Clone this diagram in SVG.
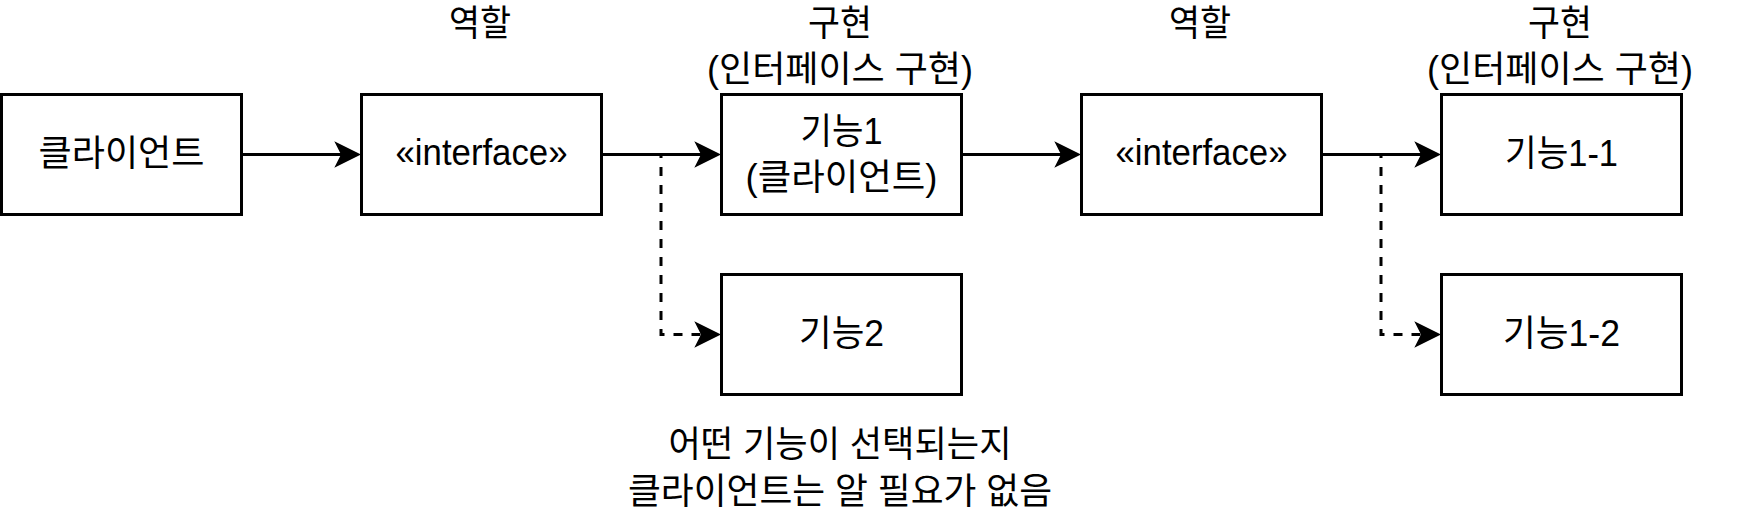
<svg xmlns="http://www.w3.org/2000/svg" xmlns:xlink="http://www.w3.org/1999/xlink" width="1743" height="516" viewBox="0 0 1743 516">
  <style>
    .box { fill: #ffffff; stroke: #000000; stroke-width: 3; }
    .t { font-family: "Liberation Sans", "Noto Sans CJK KR", sans-serif; font-size: 36px; fill: #000000; text-anchor: middle; }
    .line { fill: none; stroke: #000000; stroke-width: 3; }
    .dash { fill: none; stroke: #000000; stroke-width: 3; stroke-dasharray: 9 9; }
  </style>
  <defs>
    <path id="ah" d="M0,0 L-26.7,-13.3 L-20,0 L-26.7,13.3 Z" fill="#000000"/>
  </defs>
  <rect width="1743" height="516" fill="#ffffff"/>

  <g id="labels">
    <text class="t" x="480" y="36" textLength="62" lengthAdjust="spacingAndGlyphs">역할</text>
    <text class="t" x="840" y="36" textLength="64" lengthAdjust="spacingAndGlyphs">구현</text>
    <text class="t" x="840" y="82" textLength="266" lengthAdjust="spacingAndGlyphs">(인터페이스 구현)</text>
    <text class="t" x="1200" y="36" textLength="62" lengthAdjust="spacingAndGlyphs">역할</text>
    <text class="t" x="1560" y="36" textLength="64" lengthAdjust="spacingAndGlyphs">구현</text>
    <text class="t" x="1560" y="82" textLength="266" lengthAdjust="spacingAndGlyphs">(인터페이스 구현)</text>
    <text class="t" x="840" y="457" textLength="343" lengthAdjust="spacingAndGlyphs">어떤 기능이 선택되는지</text>
    <text class="t" x="840" y="504" textLength="424" lengthAdjust="spacingAndGlyphs">클라이언트는 알 필요가 없음</text>
  </g>

  <g id="connectors">
    <line class="line" x1="241.5" y1="154.5" x2="341" y2="154.5"/>
    <use xlink:href="#ah" transform="translate(361,154.5)"/>
    <line class="line" x1="601.5" y1="154.5" x2="701" y2="154.5"/>
    <use xlink:href="#ah" transform="translate(721,154.5)"/>
    <path class="dash" d="M601.5,154.5 H661 V334.5 H701"/>
    <use xlink:href="#ah" transform="translate(721,334.5)"/>
    <line class="line" x1="961.5" y1="154.5" x2="1061" y2="154.5"/>
    <use xlink:href="#ah" transform="translate(1081,154.5)"/>
    <line class="line" x1="1321.5" y1="154.5" x2="1421" y2="154.5"/>
    <use xlink:href="#ah" transform="translate(1441,154.5)"/>
    <path class="dash" d="M1321.5,154.5 H1381 V334.5 H1421"/>
    <use xlink:href="#ah" transform="translate(1441,334.5)"/>
  </g>

  <g id="client">
    <rect class="box" x="1.5" y="94.5" width="240" height="120"/>
    <text class="t" x="121.5" y="166" textLength="166" lengthAdjust="spacingAndGlyphs">클라이언트</text>
  </g>
  <g id="interface1">
    <rect class="box" x="361.5" y="94.5" width="240" height="120"/>
    <text class="t" x="481.5" y="165" textLength="172" lengthAdjust="spacingAndGlyphs">«interface»</text>
  </g>
  <g id="feature1">
    <rect class="box" x="721.5" y="94.5" width="240" height="120"/>
    <text class="t" x="841.5" y="144" textLength="82" lengthAdjust="spacingAndGlyphs">기능1</text>
    <text class="t" x="841.5" y="190" textLength="192" lengthAdjust="spacingAndGlyphs">(클라이언트)</text>
  </g>
  <g id="feature2">
    <rect class="box" x="721.5" y="274.5" width="240" height="120"/>
    <text class="t" x="841.5" y="346" textLength="85" lengthAdjust="spacingAndGlyphs">기능2</text>
  </g>
  <g id="interface2">
    <rect class="box" x="1081.5" y="94.5" width="240" height="120"/>
    <text class="t" x="1201.5" y="165" textLength="172" lengthAdjust="spacingAndGlyphs">«interface»</text>
  </g>
  <g id="feature1-1">
    <rect class="box" x="1441.5" y="94.5" width="240" height="120"/>
    <text class="t" x="1561.5" y="166" textLength="113" lengthAdjust="spacingAndGlyphs">기능1-1</text>
  </g>
  <g id="feature1-2">
    <rect class="box" x="1441.5" y="274.5" width="240" height="120"/>
    <text class="t" x="1561.5" y="346" textLength="117" lengthAdjust="spacingAndGlyphs">기능1-2</text>
  </g>
</svg>
